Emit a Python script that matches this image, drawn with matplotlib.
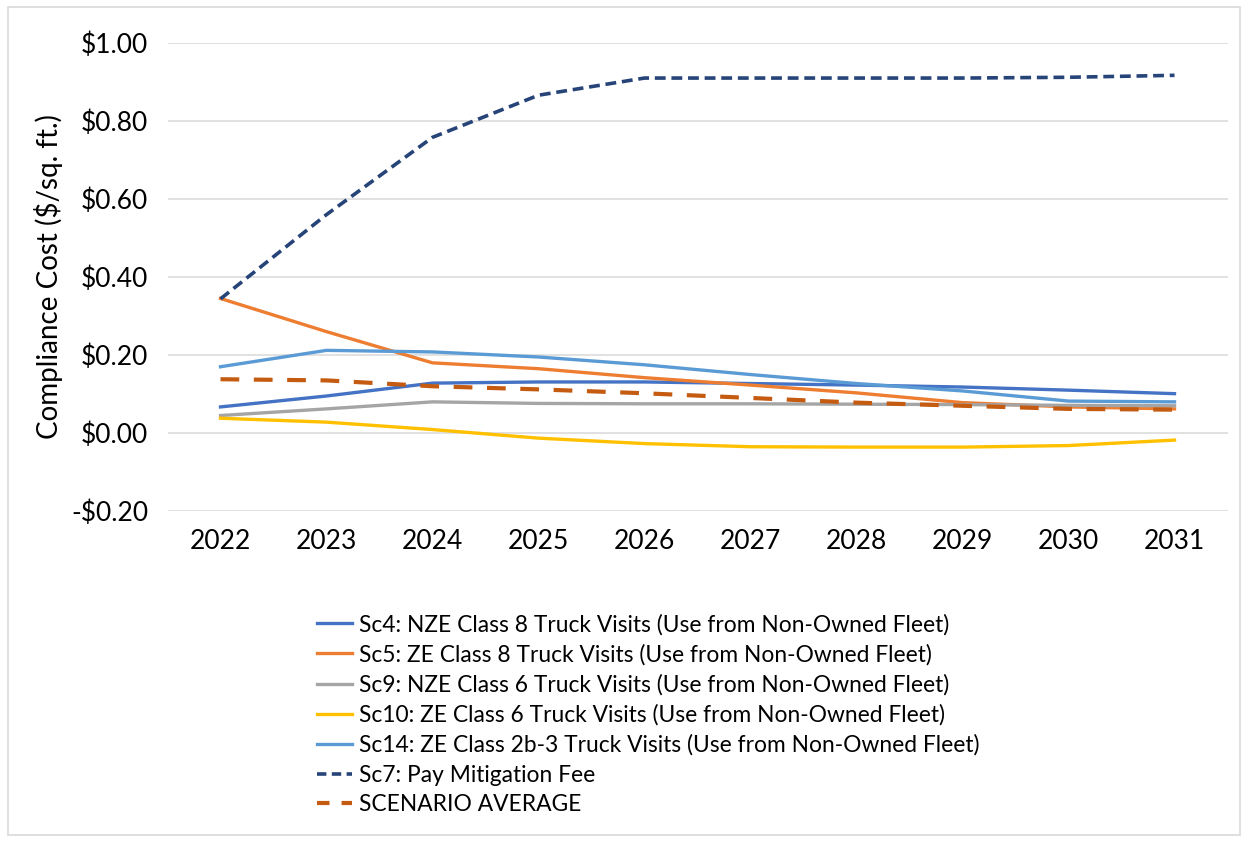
import matplotlib.pyplot as plt
from matplotlib.patches import Rectangle
from matplotlib.lines import Line2D

plt.rcParams['font.family'] = ['Lato', 'DejaVu Sans']

# Data
years = ['2022', '2023', '2024', '2025', '2026', '2027', '2028', '2029', '2030', '2031']

sc4 = [0.067, 0.095, 0.128, 0.131, 0.131, 0.127, 0.123, 0.118, 0.110, 0.101]
sc5 = [0.345, 0.260, 0.180, 0.165, 0.142, 0.123, 0.103, 0.078, 0.067, 0.062]
sc9 = [0.045, 0.062, 0.080, 0.076, 0.075, 0.075, 0.074, 0.073, 0.071, 0.070]
sc10 = [0.038, 0.028, 0.009, -0.013, -0.027, -0.035, -0.036, -0.036, -0.032, -0.018]
sc14 = [0.170, 0.212, 0.208, 0.195, 0.175, 0.150, 0.127, 0.108, 0.082, 0.080]
sc7 = [0.344, 0.560, 0.758, 0.866, 0.910, 0.910, 0.910, 0.910, 0.912, 0.917]
avg = [0.138, 0.135, 0.120, 0.112, 0.102, 0.090, 0.078, 0.070, 0.062, 0.060]

labels = [
    'Sc4: NZE Class 8 Truck Visits (Use from Non-Owned Fleet)',
    'Sc5: ZE Class 8 Truck Visits (Use from Non-Owned Fleet)',
    'Sc9: NZE Class 6 Truck Visits (Use from Non-Owned Fleet)',
    'Sc10: ZE Class 6 Truck Visits (Use from Non-Owned Fleet)',
    'Sc14: ZE Class 2b-3 Truck Visits (Use from Non-Owned Fleet)',
    'Sc7: Pay Mitigation Fee',
    'SCENARIO AVERAGE',
]
y_ticks = [-0.2, 0.0, 0.2, 0.4, 0.6, 0.8, 1.0]

fig = plt.figure(figsize=(12.5, 8.42), dpi=100)
ax = fig.add_axes([0.134, 0.393, 0.848, 0.556])

x = range(len(years))
lw = 2.4
handles = []
handles += ax.plot(x, sc4, color='#4472C4', lw=lw)
handles += ax.plot(x, sc5, color='#ED7D31', lw=lw)
handles += ax.plot(x, sc9, color='#A5A5A5', lw=lw)
handles += ax.plot(x, sc10, color='#FFC000', lw=lw)
handles += ax.plot(x, sc14, color='#5B9BD5', lw=lw)
ax.plot(x, sc7, color='#264478', lw=2.6, dashes=(3.0, 1.6))
ax.plot(x, avg, color='#C55A11', lw=3.0, dashes=(4.5, 3.5))

# legend samples for the dashed series use shorter dashes, like the original
handles.append(Line2D([], [], color='#264478', lw=2.6, dashes=(2.6, 1.5)))
handles.append(Line2D([], [], color='#C55A11', lw=3.0, dashes=(3.0, 2.9)))

ax.set_xlim(-0.5, len(years) - 0.5)
ax.set_ylim(-0.2, 1.0)
ax.set_xticks(list(x))
ax.set_xticklabels(years)
ax.set_yticks(y_ticks)
ax.set_yticklabels(['-$%.2f' % -v if v < 0 else '$%.2f' % v for v in y_ticks])
ax.tick_params(length=0, labelsize=19, colors='#000000')
ax.tick_params(axis='x', pad=13)
ax.tick_params(axis='y', pad=14)
ax.grid(axis='y', color='#D9D9D9', lw=1.1)
ax.set_axisbelow(True)
for s in ax.spines.values():
    s.set_visible(False)
ax.set_ylabel('Compliance Cost ($/sq. ft.)', fontsize=20, labelpad=6)

fig.legend(handles, labels, loc='upper left', bbox_to_anchor=(0.246, 0.282), frameon=False,
           fontsize=16.4, handlelength=1.55, handletextpad=0.3, labelspacing=0.38,
           borderaxespad=0)

fig.patches.append(Rectangle((0.006, 0.008), 0.986, 0.984, transform=fig.transFigure,
                             fill=False, edgecolor='#D9D9D9', lw=1.2))

fig.savefig('out.png', dpi=100)
